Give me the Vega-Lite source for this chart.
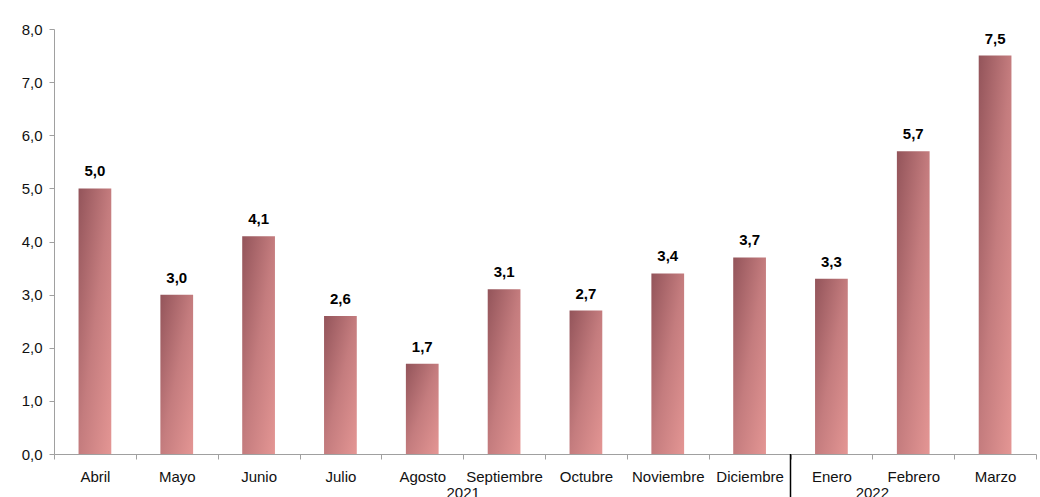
{
  "$schema": "https://vega.github.io/schema/vega-lite/v6.json",
  "width": 982,
  "height": 425,
  "autosize": {"type": "none"},
  "padding": {"left": 54, "top": 29, "right": 4, "bottom": 43},
  "background": "white",
  "datasets": {
    "bars": [
      {"month": "Abril", "value": 5.0},
      {"month": "Mayo", "value": 3.0},
      {"month": "Junio", "value": 4.1},
      {"month": "Julio", "value": 2.6},
      {"month": "Agosto", "value": 1.7},
      {"month": "Septiembre", "value": 3.1},
      {"month": "Octubre", "value": 2.7},
      {"month": "Noviembre", "value": 3.4},
      {"month": "Diciembre", "value": 3.7},
      {"month": "Enero", "value": 3.3},
      {"month": "Febrero", "value": 5.7},
      {"month": "Marzo", "value": 7.5}
    ],
    "years": [
      {"year": "2021", "at": "Agosto"},
      {"year": "2022", "at": "Enero"}
    ],
    "sep": [
      {"at": "Enero"}
    ]
  },
  "config": {
    "view": {"stroke": null},
    "font": "Liberation Sans"
  },
  "layer": [
    {
      "data": {"name": "bars"},
      "mark": {
        "type": "bar",
        "width": {"band": 0.4},
        "fill": {
          "gradient": "linear",
          "x1": 0, "y1": 0, "x2": 1, "y2": 1,
          "stops": [
            {"offset": 0, "color": "#93545a"},
            {"offset": 0.5, "color": "#c47c7e"},
            {"offset": 1, "color": "#e49694"}
          ]
        }
      },
      "encoding": {
        "x": {
          "field": "month",
          "type": "nominal",
          "sort": null,
          "scale": {
            "domain": ["Abril", "Mayo", "Junio", "Julio", "Agosto", "Septiembre", "Octubre", "Noviembre", "Diciembre", "Enero", "Febrero", "Marzo"],
            "paddingInner": 0,
            "paddingOuter": 0
          },
          "axis": {
            "title": null,
            "labelAngle": 0,
            "tickBand": "extent",
            "tickSize": 5,
            "tickColor": "#a0a0a0",
            "domainColor": "#a0a0a0",
            "labelFontSize": 15,
            "labelColor": "#111",
            "labelPadding": 10
          }
        },
        "y": {
          "field": "value",
          "type": "quantitative",
          "scale": {"domain": [0, 8], "nice": false},
          "axis": {
            "title": null,
            "values": [0, 1, 2, 3, 4, 5, 6, 7, 8],
            "grid": false,
            "tickSize": 5,
            "tickColor": "#a0a0a0",
            "domainColor": "#a0a0a0",
            "labelFontSize": 15,
            "labelColor": "#111",
            "labelPadding": 7,
            "labelExpr": "replace(format(datum.value, '.1f'), '.', ',')"
          }
        }
      }
    },
    {
      "data": {"name": "bars"},
      "transform": [
        {"calculate": "replace(format(datum.value, '.1f'), '.', ',')", "as": "label"}
      ],
      "mark": {"type": "text", "fontWeight": "bold", "fontSize": 15, "baseline": "alphabetic", "dy": -12, "color": "#000"},
      "encoding": {
        "x": {"field": "month", "type": "nominal", "sort": null},
        "y": {"field": "value", "type": "quantitative"},
        "text": {"field": "label"}
      }
    },
    {
      "data": {"name": "years"},
      "mark": {"type": "text", "fontSize": 15, "baseline": "top", "color": "#111"},
      "encoding": {
        "x": {"field": "at", "type": "nominal", "bandPosition": 1},
        "y": {"datum": -0.6},
        "text": {"field": "year"}
      }
    },
    {
      "data": {"name": "sep"},
      "mark": {"type": "rule", "color": "#000", "strokeWidth": 1.5},
      "encoding": {
        "x": {"field": "at", "type": "nominal", "bandPosition": 0},
        "y": {"datum": 0},
        "y2": {"datum": -0.9}
      }
    }
  ]
}
